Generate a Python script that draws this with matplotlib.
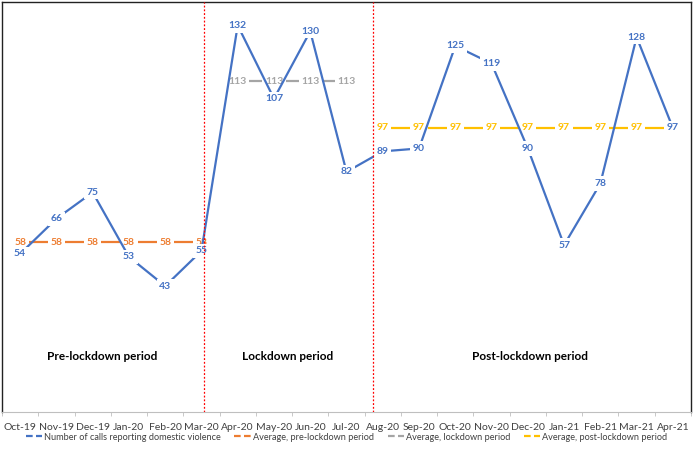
import numpy as np
import matplotlib.pyplot as plt
from matplotlib.lines import Line2D

plt.rcParams['font.family'] = ['Lato', 'DejaVu Sans']

months = ['Oct-19', 'Nov-19', 'Dec-19', 'Jan-20', 'Feb-20', 'Mar-20', 'Apr-20',
          'May-20', 'Jun-20', 'Jul-20', 'Aug-20', 'Sep-20', 'Oct-20', 'Nov-20',
          'Dec-20', 'Jan-21', 'Feb-21', 'Mar-21', 'Apr-21']
calls = [54, 66, 75, 53, 43, 55, 132, 107, 130, 82, 89, 90, 125, 119, 90, 57, 78, 128, 97]

pre_idx = list(range(0, 6))
pre_avg = [58] * 6
lock_idx = list(range(6, 10))
lock_avg = [113] * 4
post_idx = list(range(10, 19))
post_avg = [97] * 9

periods = ['Pre-lockdown period', 'Lockdown period', 'Post-lockdown period']

c_blue = '#4472C4'
c_orange = '#ED7D31'
c_gray = '#A5A5A5'
c_yellow = '#FFC000'

fig = plt.figure(figsize=(6.93, 4.54), dpi=100)
ax = fig.add_axes([2/693, 42/454, 689/693, 410/454])

x = np.arange(len(months))


def draw_series(xs, ys, color, z):
    ax.plot(xs, ys, color=color, lw=1.6, zorder=z)
    for xi, yi in zip(xs, ys):
        ax.text(xi, yi, str(yi), color=color, fontsize=7.5, fontweight='bold',
                ha='center', va='center', zorder=z + 0.5,
                bbox=dict(boxstyle='square,pad=0.25', fc='white', ec='none'))


draw_series(pre_idx, pre_avg, c_orange, 2)
draw_series(lock_idx, lock_avg, c_gray, 2)
draw_series(post_idx, post_avg, c_yellow, 2)
draw_series(list(x), calls, c_blue, 4)

# lockdown boundaries
for xb in [5.07, 9.72]:
    ax.axvline(xb, color='red', lw=0.9, ls=(0, (1.5, 1.5)), zorder=6)

for xt, lab in zip([2.27, 7.39, 14.05], periods):
    ax.text(xt, 19, lab, ha='center', va='center', fontsize=8.5, fontweight='bold',
            color='black')

ax.set_xlim(-0.5, 18.5)
ax.set_ylim(0, 140)
ax.set_yticks([])
ax.set_xticks(x)
ax.set_xticklabels(months, fontsize=7.5, color='#404040')
ax.set_xticks(np.arange(-0.5, 19, 1), minor=True)
ax.tick_params(axis='x', which='major', length=0, pad=8)
ax.tick_params(axis='x', which='minor', length=3, color='#BFBFBF')
for side in ['left', 'top', 'right']:
    ax.spines[side].set_color('#222222')
    ax.spines[side].set_linewidth(1.0)
ax.spines['bottom'].set_color('#BFBFBF')

handles = [Line2D([], [], color=c, lw=1.6, ls=(0, (3, 1.5))) for c in
           [c_blue, c_orange, c_gray, c_yellow]]
labels = ['Number of calls reporting domestic violence',
          'Average, pre-lockdown period', 'Average, lockdown period',
          'Average, post-lockdown period']
fig.legend(handles, labels, loc='center', bbox_to_anchor=(0.5, 17/454), ncol=4,
           frameon=False, fontsize=6.6, handlelength=1.8, handletextpad=0.2,
           columnspacing=1.5, labelcolor='#404040')

fig.savefig('out.png', dpi=100)
